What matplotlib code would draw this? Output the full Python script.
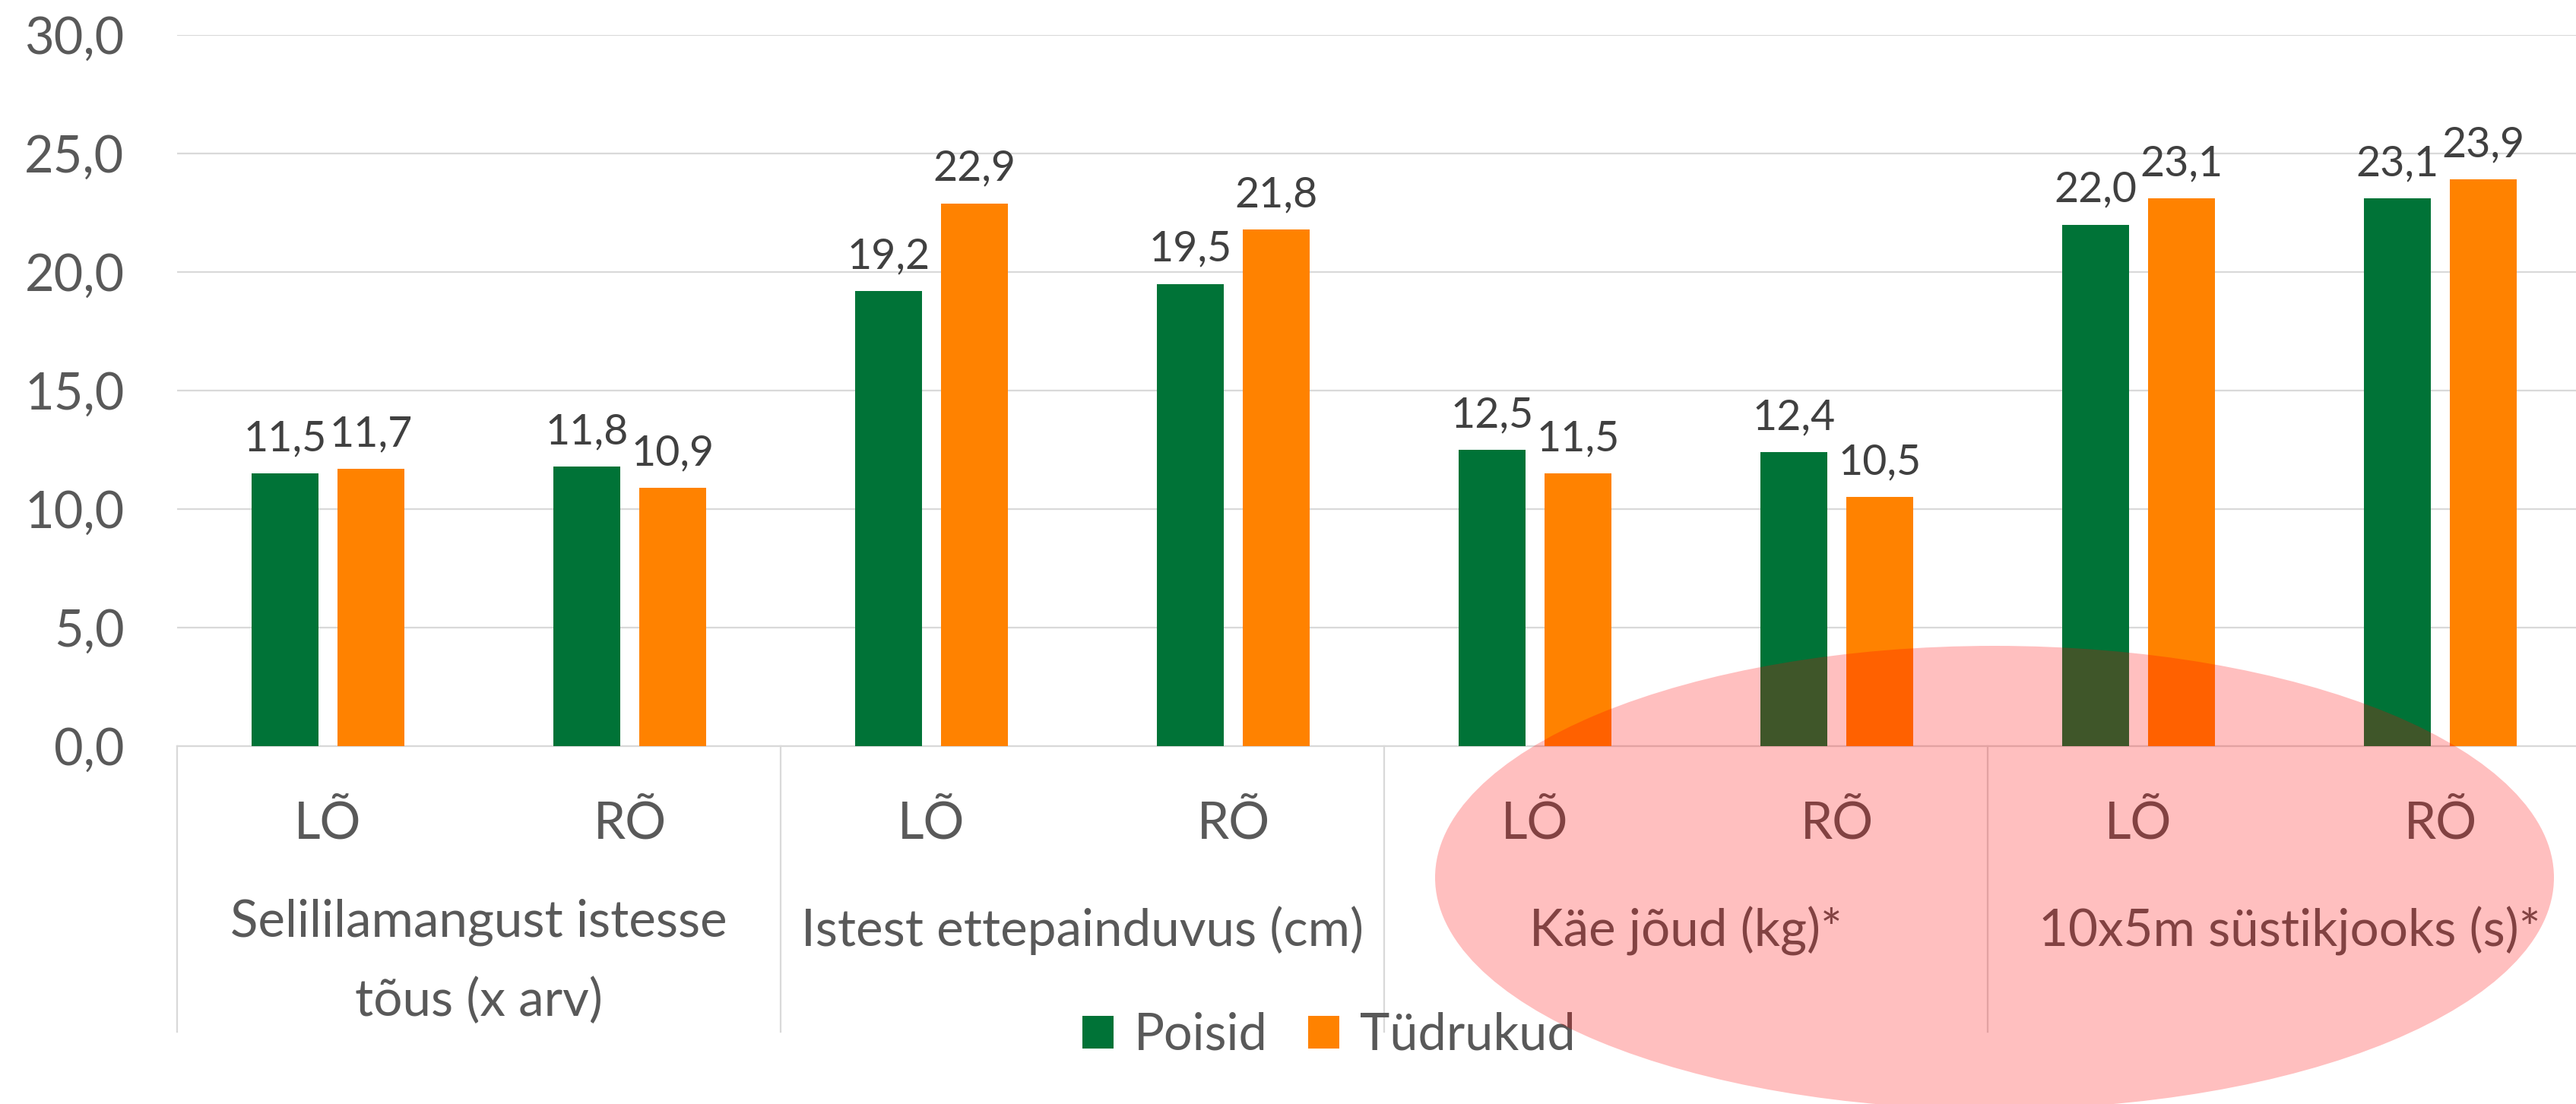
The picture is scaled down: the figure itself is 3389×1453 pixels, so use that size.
import numpy as np
import matplotlib
matplotlib.use("Agg")
import matplotlib.pyplot as plt
from matplotlib.patches import Ellipse
import matplotlib.transforms as mtransforms

# ---------------- data ----------------
sub_labels = ["LÕ", "RÕ", "LÕ", "RÕ", "LÕ", "RÕ", "LÕ", "RÕ"]
group_labels = ["Selililamangust istesse\ntõus (x arv)",
                "Istest ettepainduvus (cm)",
                "Käe jõud (kg)*",
                "10x5m süstikjooks (s)*"]
series_names = ["Poisid", "Tüdrukud"]
poisid = [11.5, 11.8, 19.2, 19.5, 12.5, 12.4, 22.0, 23.1]
tudrukud = [11.7, 10.9, 22.9, 21.8, 11.5, 10.5, 23.1, 23.9]
y_ticks = [0, 5, 10, 15, 20, 25, 30]

# ---------------- style ----------------
GREEN = "#007337"
ORANGE = "#FF8200"
TEXT = "#595959"
LABEL = "#404040"
GRID = "#D9D9D9"

plt.rcParams["font.family"] = ["Lato", "DejaVu Sans"]

W, H = 3389, 1453
fig = plt.figure(figsize=(W / 100, H / 100), dpi=100)
fig.patch.set_facecolor("white")

left_px, zero_px, top_px, cat_px = 233, 982, 46, 397
ax = fig.add_axes([left_px / W, 1 - zero_px / H, 8 * cat_px / W, (zero_px - top_px) / H])
ax_h = zero_px - top_px

x = np.arange(len(sub_labels))
bw = 0.2225
off = 0.142
b1 = ax.bar(x - off, poisid, width=bw, color=GREEN, label=series_names[0], zorder=3)
b2 = ax.bar(x + off, tudrukud, width=bw, color=ORANGE, label=series_names[1], zorder=3)

fmt = lambda v: f"{v:.1f}".replace(".", ",")
for bars, vals in ((b1, poisid), (b2, tudrukud)):
    for rect, v in zip(bars, vals):
        ax.annotate(fmt(v), (rect.get_x() + rect.get_width() / 2, v),
                    xytext=(0, 21.5), textcoords="offset points",
                    ha="center", va="baseline", fontsize=40, color=LABEL, zorder=4)

ax.set_xlim(-0.5, 7.5)
ax.set_ylim(0, 30)
ax.set_yticks(y_ticks)
ax.set_yticklabels([fmt(v) for v in y_ticks])
ax.tick_params(axis="y", length=0, pad=50, labelsize=48, labelcolor=TEXT)
ax.set_xticks([])
ax.yaxis.grid(True, color=GRID, lw=1.6)
ax.set_axisbelow(True)
for s in ("top", "right", "left"):
    ax.spines[s].set_visible(False)
ax.spines["bottom"].set_color(GRID)
ax.spines["bottom"].set_linewidth(1.6)

trans = mtransforms.blended_transform_factory(ax.transData, ax.transAxes)
CAT_FS = 48.5
# inner level labels
sub_y = -(1104 - zero_px) / ax_h
for xi, lab in zip(x, sub_labels):
    ax.text(xi, sub_y, lab, transform=trans, ha="center", va="baseline",
            fontsize=CAT_FS, color=TEXT, clip_on=False)
# outer level labels (baseline of the last line is aligned)
line_step = 92
for gi, lab in enumerate(group_labels):
    n = lab.count("\n")
    gy = -(1245 + n * line_step - zero_px) / ax_h
    ax.text(2 * gi + 0.5, gy, lab, transform=trans, ha="center", va="baseline",
            fontsize=CAT_FS, color=TEXT, clip_on=False, linespacing=1.82,
            multialignment="center")
# separators
sep_bottom = -(1358 - zero_px) / ax_h
for sx in (-0.5, 1.5, 3.5, 5.5, 7.5):
    ax.plot([sx, sx], [0, sep_bottom], transform=trans, color=GRID, lw=1.6, clip_on=False)

fig.legend(handles=[b1, b2], labels=series_names, loc="center",
           bbox_to_anchor=(1748 / W, 1 - 1363 / H), ncol=2, frameon=False,
           fontsize=48, handlelength=0.62, handleheight=0.62, handletextpad=0.4,
           columnspacing=0.8, labelcolor=TEXT)

# highlight ellipse
ell = Ellipse((2624 / W, 1 - 1155 / H), 2 * 736 / W, 2 * 305 / H,
              transform=fig.transFigure, facecolor="#FF0000", alpha=0.25,
              edgecolor="none", zorder=100)
fig.add_artist(ell)

fig.savefig("out.png", dpi=100, facecolor="white")
